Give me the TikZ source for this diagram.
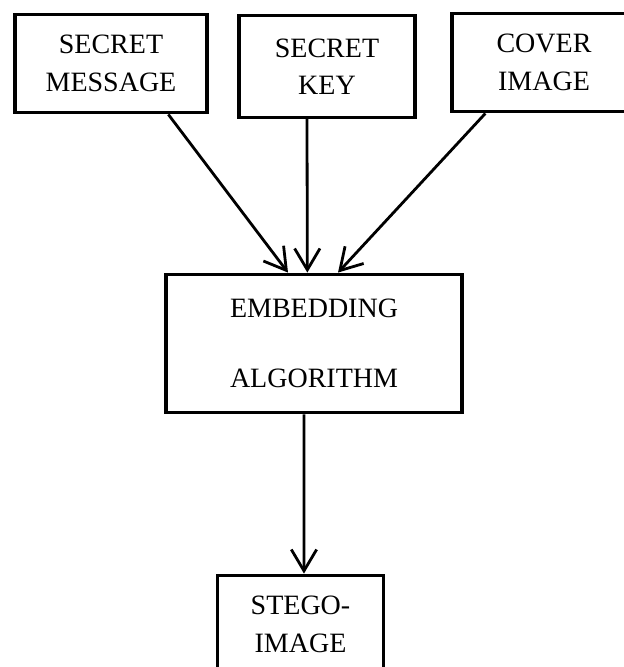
\documentclass[tikz,border=0pt]{standalone}
\usepackage{fontspec}
\setmainfont{Liberation Serif}
\usetikzlibrary{positioning,arrows.meta}

\begin{document}
\begin{tikzpicture}[x=0.75pt, y=-0.75pt,
    box/.style={draw=black, line width=2.4pt, align=center, inner sep=0pt,
        font=\fontsize{21}{28}\selectfont},
    arr/.style={draw=black, line width=2.1pt,
        -{Straight Barb[length=16pt, width=19pt, line width=2.1pt]}}]
\useasboundingbox (0,0) rectangle (624,667);

\node[box, minimum width=144pt, minimum height=74pt] (msg) at (111,63.5) {SECRET\\MESSAGE};
\node[box, minimum width=132pt, minimum height=76pt] (key) at (327,66.5) {SECRET\\KEY};
\node[box, minimum width=138pt, minimum height=74pt] (cover) at (544,62.5) {COVER\\IMAGE};

\node[box, minimum width=222pt, minimum height=104pt] (embed) at (314,343.5) {EMBEDDING\\[25pt]ALGORITHM};

\node[box, minimum width=125pt, minimum height=74pt] (stego) at (300.5,624.5) {STEGO-\\IMAGE};

\draw[arr] ([xshift=43pt]msg.south) -- ([xshift=-19.5pt]embed.north);
\draw[arr] ([xshift=-15pt]key.south) -- ([xshift=-5pt]embed.north);
\draw[arr] ([xshift=-44pt]cover.south) -- ([xshift=18pt]embed.north);
\draw[arr] ([xshift=-7.5pt]embed.south) -- ([xshift=2.6pt]stego.north);

\end{tikzpicture}
\end{document}
